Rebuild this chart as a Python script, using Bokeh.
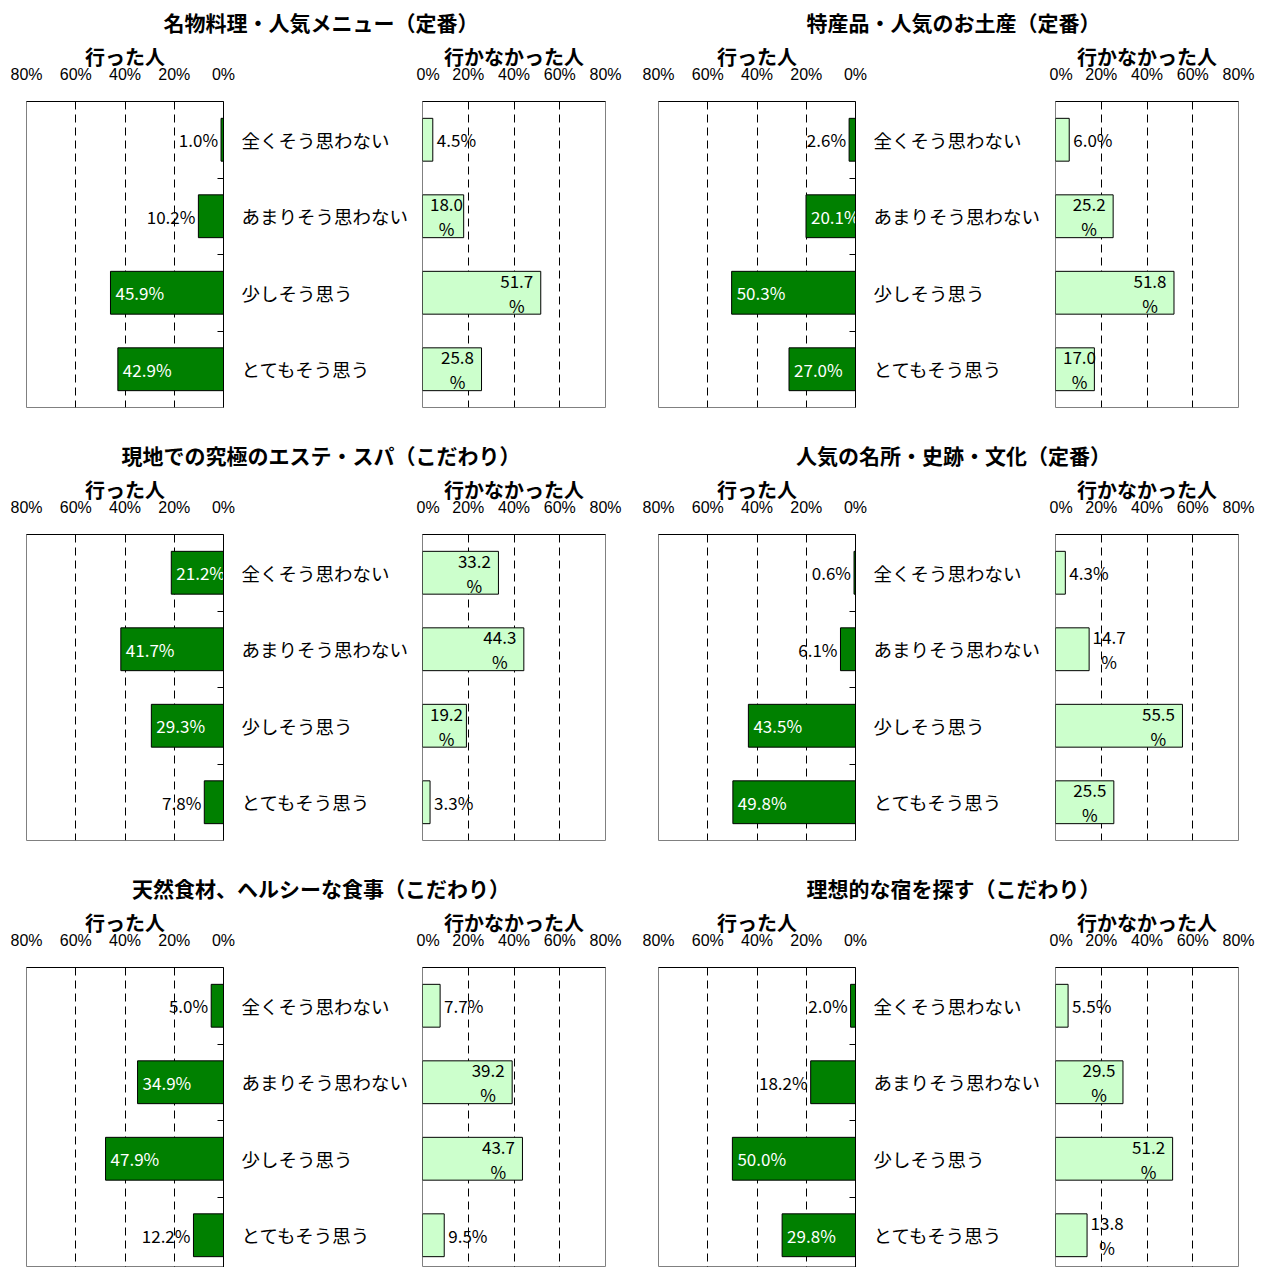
from bokeh.plotting import figure
from bokeh.layouts import row, column
from bokeh.models import Range1d, FixedTicker, Label
from bokeh.embed import file_html
from bokeh.resources import INLINE
from bokeh.core.properties import value

# ---------------- data ----------------
categories = ["全くそう思わない", "あまりそう思わない", "少しそう思う", "とてもそう思う"]
went_header = "行った人"
notwent_header = "行かなかった人"
tick_values = [0, 20, 40, 60, 80]
tick_labels = ["0%", "20%", "40%", "60%", "80%"]

title_1 = "名物料理・人気メニュー（定番）"
went_1 = [1.0, 10.2, 45.9, 42.9]
notwent_1 = [4.5, 18.0, 51.7, 25.8]

title_2 = "特産品・人気のお土産（定番）"
went_2 = [2.6, 20.1, 50.3, 27.0]
notwent_2 = [6.0, 25.2, 51.8, 17.0]

title_3 = "現地での究極のエステ・スパ（こだわり）"
went_3 = [21.2, 41.7, 29.3, 7.8]
notwent_3 = [33.2, 44.3, 19.2, 3.3]

title_4 = "人気の名所・史跡・文化（定番）"
went_4 = [0.6, 6.1, 43.5, 49.8]
notwent_4 = [4.3, 14.7, 55.5, 25.5]

title_5 = "天然食材、ヘルシーな食事（こだわり）"
went_5 = [5.0, 34.9, 47.9, 12.2]
notwent_5 = [7.7, 39.2, 43.7, 9.5]

title_6 = "理想的な宿を探す（こだわり）"
went_6 = [2.0, 18.2, 50.0, 29.8]
notwent_6 = [5.5, 29.5, 51.2, 13.8]

# ---------------- style ----------------
FONT = "Noto Sans CJK JP"
TICK_FONT = "Liberation Sans"
DARK = "#008000"
LIGHT = "#CCFFCC"
FRAME_GRAY = "#808080"
PX_PER_CAT = 76.5
TITLE_H = 37
BORDER_TOP = 64
LEFT_FRAME_W = 197
RIGHT_FRAME_W = 183


def style_top_axis(p, label):
    ax = p.xaxis[0]
    ax.ticker = FixedTicker(ticks=tick_values)
    ax.major_label_overrides = dict(zip(tick_values, tick_labels))
    ax.major_label_text_font = TICK_FONT
    ax.major_label_text_font_size = "16px"
    ax.major_label_text_color = "black"
    ax.major_label_standoff = 19
    ax.axis_label = label
    ax.axis_label_text_font = FONT
    ax.axis_label_text_font_size = "20px"
    ax.axis_label_text_font_style = "bold"
    ax.axis_label_text_color = "black"
    ax.axis_label_standoff = -8
    ax.major_tick_in = 0
    ax.major_tick_out = 0
    ax.minor_tick_in = 0
    ax.minor_tick_out = 0
    ax.axis_line_color = "black"
    p.xgrid.ticker = FixedTicker(ticks=[20, 40, 60])
    p.xgrid.grid_line_color = "black"
    p.xgrid.grid_line_dash = "8 5"
    p.xgrid.grid_line_width = 1
    p.ygrid.visible = False


def build_panel(title, went, notwent, title_y, frame_h, border_bottom, left_mbl, left_mbr, right_mbr):
    y_bottom = -0.5 + frame_h / PX_PER_CAT
    ys = list(range(len(categories)))
    left_w = left_mbl + LEFT_FRAME_W + left_mbr
    right_w = 6 + RIGHT_FRAME_W + right_mbr
    panel_w = left_w + right_w
    title_x = (left_mbl + left_w + 6 + RIGHT_FRAME_W) / 2 + 5

    # title strip
    pt = figure(width=panel_w, height=TITLE_H, x_range=Range1d(0, panel_w), y_range=Range1d(TITLE_H, 0),
                x_axis_location=None, y_axis_location=None, toolbar_location=None,
                min_border=0, outline_line_color=None, output_backend="svg")
    pt.grid.visible = False
    pt.add_layout(Label(x=title_x, y=min(title_y, 21.5), text=title, text_align="center",
                        text_baseline="middle", text_font=FONT, text_font_size="21px",
                        text_font_style="bold", text_color="black"))

    # left: went
    pl = figure(frame_width=LEFT_FRAME_W, frame_height=frame_h, x_range=Range1d(80, 0),
                y_range=Range1d(y_bottom, -0.5),
                x_axis_location="above", y_axis_location="right", toolbar_location=None,
                min_border_left=left_mbl, min_border_right=left_mbr, min_border_top=BORDER_TOP,
                min_border_bottom=border_bottom, outline_line_color=FRAME_GRAY, output_backend="svg")
    style_top_axis(pl, went_header)
    ay = pl.yaxis[0]
    ay.ticker = FixedTicker(ticks=ys, minor_ticks=[0.5, 1.5, 2.5])
    ay.major_label_overrides = {i: c for i, c in enumerate(categories)}
    ay.major_label_text_font = FONT
    ay.major_label_text_font_size = "18.5px"
    ay.major_label_text_color = "black"
    ay.major_label_standoff = 18
    ay.major_tick_in = 0
    ay.major_tick_out = 0
    ay.minor_tick_in = 6
    ay.minor_tick_out = 0
    ay.minor_tick_line_color = "black"
    ay.axis_line_color = "black"

    pl.hbar(y=ys, left=0, right=went, height=0.56, fill_color=DARK, line_color="black", line_width=1)

    ins = [i for i, v in enumerate(went) if v >= 20]
    outs = [i for i, v in enumerate(went) if v < 20]
    pl.text(x=[went[i] for i in ins], y=[ys[i] for i in ins], text=[f"{went[i]:.1f}%" for i in ins],
            x_offset=5, text_align="left", text_baseline="middle", text_color="white",
            text_font=value(FONT), text_font_size="17px")
    pl.text(x=[went[i] for i in outs], y=[ys[i] for i in outs], text=[f"{went[i]:.1f}%" for i in outs],
            x_offset=-3, text_align="right", text_baseline="middle", text_color="black",
            text_font=value(FONT), text_font_size="17px")

    # right: not went
    pr = figure(frame_width=RIGHT_FRAME_W, frame_height=frame_h, x_range=Range1d(0, 80),
                y_range=Range1d(y_bottom, -0.5),
                x_axis_location="above", y_axis_location=None, toolbar_location=None,
                min_border_left=6, min_border_right=right_mbr, min_border_top=BORDER_TOP,
                min_border_bottom=border_bottom, outline_line_color=FRAME_GRAY, output_backend="svg")
    style_top_axis(pr, notwent_header)
    pr.hbar(y=ys, left=0, right=notwent, height=0.56, fill_color=LIGHT, line_color="black", line_width=1)

    single = [i for i, v in enumerate(notwent) if v < 10]
    pr.text(x=[notwent[i] for i in single], y=[ys[i] for i in single],
            text=[f"{notwent[i]:.1f}%" for i in single],
            x_offset=4, text_align="left", text_baseline="middle", text_color="black",
            text_font=value(FONT), text_font_size="17px")
    two = [i for i, v in enumerate(notwent) if v >= 10]
    tx, toff = [], []
    for i in two:
        v = notwent[i]
        if v < 15:
            tx.append(v); toff.append(20)
        elif v < 21:
            tx.append(0); toff.append(24)
        else:
            tx.append(v); toff.append(-24)
    pr.text(x=tx, y=[ys[i] for i in two], text=[f"{notwent[i]:.1f}\n%" for i in two],
            x_offset=toff, text_align="center", text_baseline="middle", text_color="black",
            text_line_height=1.0, text_font=value(FONT), text_font_size="17px")

    return column(pt, row(pl, pr))


FULL_H = 306
LAST_H = 300
GAP_B = 26

pA1 = build_panel(title_1, went_1, notwent_1, 22, FULL_H, GAP_B, 26, 193, 35)
pB1 = build_panel(title_2, went_2, notwent_2, 22, FULL_H, GAP_B, 18, 194, 24)
pA2 = build_panel(title_3, went_3, notwent_3, 25, FULL_H, GAP_B, 26, 193, 35)
pB2 = build_panel(title_4, went_4, notwent_4, 32, FULL_H, GAP_B, 18, 194, 24)
pA3 = build_panel(title_5, went_5, notwent_5, 21, LAST_H, 0, 26, 193, 35)
pB3 = build_panel(title_6, went_6, notwent_6, 29, LAST_H, 0, 18, 194, 24)

layout = column(row(pA1, pB1), row(pA2, pB2), row(pA3, pB3))

open("out.html", "w").write(file_html(layout, INLINE))
